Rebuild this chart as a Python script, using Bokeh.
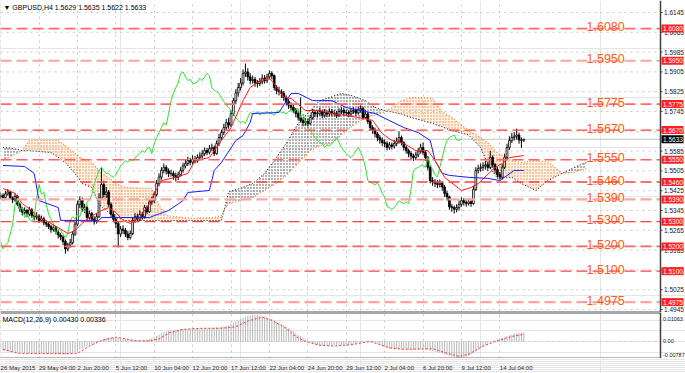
from bokeh.plotting import figure
from bokeh.models import Range1d, FixedTicker, Grid, ColumnDataSource
from bokeh.layouts import column
from bokeh.embed import file_html
from bokeh.resources import INLINE
from bokeh.core.properties import value

FONT = "Liberation Sans"

# ---------------- data ----------------
first_open = 1.5400
closes = [
    1.5405, 1.5398, 1.5412, 1.5420, 1.5395, 1.5388, 1.5402, 1.5370, 1.5352, 1.5338,
    1.5345, 1.5330, 1.5348, 1.5325, 1.5318, 1.5322, 1.5305, 1.5312, 1.5296, 1.5290,
    1.5280, 1.5268, 1.5275, 1.5258, 1.5246, 1.5238, 1.5220, 1.5190, 1.5205, 1.5215,
    1.5250, 1.5290, 1.5370, 1.5390, 1.5350, 1.5357, 1.5317, 1.5333, 1.5310, 1.5300,
    1.5320, 1.5395, 1.5450, 1.5410, 1.5420, 1.5370, 1.5330, 1.5310, 1.5293, 1.5250,
    1.5270, 1.5265, 1.5250, 1.5236, 1.5252, 1.5305, 1.5320, 1.5310, 1.5330, 1.5320,
    1.5357, 1.5340, 1.5380, 1.5385, 1.5410, 1.5454, 1.5480, 1.5507, 1.5519, 1.5505,
    1.5495, 1.5495, 1.5485, 1.5479, 1.5490, 1.5507, 1.5525, 1.5535, 1.5547, 1.5540,
    1.5552, 1.5545, 1.5559, 1.5565, 1.5575, 1.5587, 1.5580, 1.5595, 1.5600, 1.5575,
    1.5616, 1.5640, 1.5660, 1.5680, 1.5700, 1.5690, 1.5737, 1.5789, 1.5820, 1.5842,
    1.5860, 1.5899, 1.5905, 1.5885, 1.5870, 1.5875, 1.5860, 1.5858, 1.5865, 1.5880,
    1.5870, 1.5885, 1.5899, 1.5890, 1.5842, 1.5830, 1.5825, 1.5818, 1.5800, 1.5785,
    1.5770, 1.5761, 1.5750, 1.5737, 1.5720, 1.5709, 1.5700, 1.5705, 1.5697, 1.5720,
    1.5741, 1.5735, 1.5737, 1.5745, 1.5730, 1.5741, 1.5735, 1.5745, 1.5737, 1.5737,
    1.5730, 1.5745, 1.5749, 1.5740, 1.5741, 1.5735, 1.5745, 1.5749, 1.5740, 1.5752,
    1.5757, 1.5721, 1.5735, 1.5705, 1.5680, 1.5670, 1.5655, 1.5640, 1.5630, 1.5620,
    1.5616, 1.5600, 1.5610, 1.5605, 1.5616, 1.5625, 1.5640, 1.5620, 1.5600, 1.5587,
    1.5575, 1.5565, 1.5559, 1.5570, 1.5585, 1.5600, 1.5580, 1.5559, 1.5520, 1.5466,
    1.5460, 1.5454, 1.5450, 1.5455, 1.5440, 1.5414, 1.5400, 1.5360, 1.5357, 1.5350,
    1.5357, 1.5370, 1.5385, 1.5378, 1.5373, 1.5380, 1.5373, 1.5430, 1.5507, 1.5515,
    1.5519, 1.5525, 1.5530, 1.5519, 1.5560, 1.5530, 1.5510, 1.5490, 1.5480, 1.5520,
    1.5560, 1.5600, 1.5628, 1.5640, 1.5645, 1.5650, 1.5630, 1.5629, 1.5633,
]
highs = [
    1.5418, 1.5415, 1.5425, 1.5432, 1.5426, 1.5402, 1.5415, 1.5408, 1.5378, 1.5360,
    1.5358, 1.5352, 1.5360, 1.5355, 1.5335, 1.5338, 1.5330, 1.5325, 1.5320, 1.5305,
    1.5300, 1.5288, 1.5290, 1.5282, 1.5265, 1.5255, 1.5245, 1.5228, 1.5215, 1.5230,
    1.5262, 1.5300, 1.5385, 1.5402, 1.5398, 1.5372, 1.5365, 1.5345, 1.5340, 1.5322,
    1.5335, 1.5415, 1.5519, 1.5465, 1.5440, 1.5428, 1.5378, 1.5342, 1.5320, 1.5300,
    1.5282, 1.5285, 1.5275, 1.5262, 1.5265, 1.5318, 1.5335, 1.5332, 1.5345, 1.5340,
    1.5368, 1.5365, 1.5392, 1.5400, 1.5422, 1.5468, 1.5495, 1.5520, 1.5535, 1.5528,
    1.5515, 1.5510, 1.5505, 1.5498, 1.5502, 1.5520, 1.5538, 1.5550, 1.5562, 1.5558,
    1.5568, 1.5565, 1.5572, 1.5580, 1.5590, 1.5600, 1.5598, 1.5610, 1.5615, 1.5608,
    1.5628, 1.5655, 1.5672, 1.5695, 1.5715, 1.5720, 1.5750, 1.5800, 1.5835, 1.5860,
    1.5880, 1.5915, 1.5939, 1.5920, 1.5900, 1.5890, 1.5885, 1.5872, 1.5880, 1.5895,
    1.5892, 1.5898, 1.5911, 1.5908, 1.5895, 1.5852, 1.5845, 1.5835, 1.5828, 1.5810,
    1.5795, 1.5782, 1.5775, 1.5760, 1.5748, 1.5802, 1.5720, 1.5718, 1.5715, 1.5732,
    1.5755, 1.5752, 1.5750, 1.5760, 1.5752, 1.5755, 1.5750, 1.5758, 1.5755, 1.5750,
    1.5748, 1.5758, 1.5762, 1.5760, 1.5752, 1.5750, 1.5758, 1.5762, 1.5758, 1.5765,
    1.5770, 1.5765, 1.5750, 1.5742, 1.5712, 1.5690, 1.5680, 1.5662, 1.5650, 1.5640,
    1.5632, 1.5625, 1.5622, 1.5620, 1.5630, 1.5640, 1.5665, 1.5648, 1.5625, 1.5608,
    1.5595, 1.5585, 1.5575, 1.5582, 1.5598, 1.5615, 1.5620, 1.5590, 1.5565, 1.5528,
    1.5480, 1.5472, 1.5468, 1.5470, 1.5462, 1.5448, 1.5425, 1.5405, 1.5372, 1.5365,
    1.5370, 1.5385, 1.5398, 1.5395, 1.5390, 1.5395, 1.5392, 1.5445, 1.5520, 1.5530,
    1.5535, 1.5540, 1.5545, 1.5542, 1.5587, 1.5568, 1.5538, 1.5520, 1.5500, 1.5532,
    1.5575, 1.5615, 1.5645, 1.5658, 1.5662, 1.5676, 1.5660, 1.5640, 1.5635,
]
lows = [
    1.5390, 1.5385, 1.5392, 1.5405, 1.5388, 1.5375, 1.5380, 1.5362, 1.5340, 1.5325,
    1.5328, 1.5318, 1.5322, 1.5315, 1.5305, 1.5308, 1.5295, 1.5298, 1.5285, 1.5278,
    1.5270, 1.5255, 1.5260, 1.5248, 1.5232, 1.5225, 1.5205, 1.5171, 1.5180, 1.5195,
    1.5208, 1.5242, 1.5282, 1.5355, 1.5340, 1.5335, 1.5305, 1.5308, 1.5298, 1.5288,
    1.5292, 1.5315, 1.5388, 1.5398, 1.5395, 1.5360, 1.5318, 1.5298, 1.5275, 1.5196,
    1.5238, 1.5250, 1.5238, 1.5225, 1.5228, 1.5245, 1.5295, 1.5298, 1.5302, 1.5308,
    1.5312, 1.5330, 1.5335, 1.5368, 1.5375, 1.5402, 1.5445, 1.5470, 1.5495, 1.5490,
    1.5480, 1.5482, 1.5470, 1.5462, 1.5468, 1.5482, 1.5498, 1.5515, 1.5525, 1.5528,
    1.5532, 1.5535, 1.5538, 1.5548, 1.5555, 1.5565, 1.5568, 1.5572, 1.5585, 1.5565,
    1.5570, 1.5605, 1.5630, 1.5650, 1.5668, 1.5675, 1.5682, 1.5728, 1.5775, 1.5805,
    1.5830, 1.5850, 1.5885, 1.5870, 1.5855, 1.5858, 1.5845, 1.5842, 1.5848, 1.5855,
    1.5858, 1.5860, 1.5875, 1.5875, 1.5830, 1.5815, 1.5810, 1.5800, 1.5788, 1.5770,
    1.5755, 1.5748, 1.5738, 1.5722, 1.5708, 1.5700, 1.5685, 1.5688, 1.5680, 1.5690,
    1.5712, 1.5722, 1.5720, 1.5728, 1.5718, 1.5720, 1.5722, 1.5725, 1.5726, 1.5725,
    1.5718, 1.5722, 1.5735, 1.5728, 1.5728, 1.5722, 1.5725, 1.5735, 1.5728, 1.5732,
    1.5740, 1.5712, 1.5715, 1.5695, 1.5668, 1.5655, 1.5640, 1.5625, 1.5615, 1.5605,
    1.5600, 1.5588, 1.5590, 1.5592, 1.5595, 1.5605, 1.5615, 1.5608, 1.5588, 1.5575,
    1.5560, 1.5550, 1.5545, 1.5548, 1.5560, 1.5575, 1.5570, 1.5545, 1.5508, 1.5455,
    1.5445, 1.5440, 1.5435, 1.5438, 1.5425, 1.5400, 1.5385, 1.5348, 1.5340, 1.5333,
    1.5338, 1.5345, 1.5360, 1.5365, 1.5360, 1.5365, 1.5360, 1.5368, 1.5425, 1.5495,
    1.5502, 1.5505, 1.5510, 1.5505, 1.5512, 1.5518, 1.5495, 1.5478, 1.5470, 1.5470,
    1.5512, 1.5550, 1.5590, 1.5618, 1.5628, 1.5632, 1.5615, 1.5598, 1.5622,
]

# Ichimoku lines (bar index -> price)
tenkan_idx = [1, 6, 9, 13, 16, 21, 26, 28, 31, 34, 37, 42, 45, 48, 51, 54, 58, 62, 64, 67,
              73, 78, 81, 87, 92, 96, 101, 104, 108, 112, 114, 118, 121, 127, 133, 138, 144,
              149, 155, 159, 163, 168, 173, 178, 181, 185, 192, 196, 199, 206, 209, 212, 218]
tenkan_val = [1.5434, 1.5414, 1.5373, 1.5345, 1.5317, 1.5293, 1.5264, 1.5252, 1.5264, 1.5293,
              1.5317, 1.5345, 1.5357, 1.5337, 1.5305, 1.5293, 1.5317, 1.5373, 1.5414, 1.5466,
              1.5479, 1.5495, 1.5547, 1.5559, 1.5628, 1.5680, 1.5789, 1.5842, 1.5870, 1.5878,
              1.5858, 1.5802, 1.5798, 1.5749, 1.5749, 1.5737, 1.5729, 1.5721, 1.5709, 1.5656,
              1.5628, 1.5616, 1.5587, 1.5587, 1.5547, 1.5479, 1.5426, 1.5438, 1.5454, 1.5519,
              1.5535, 1.5559, 1.5567]
kijun_idx = [1, 10, 14, 16, 24, 25, 41, 42, 62, 70, 76, 78, 87, 89, 92, 98, 101, 104, 105,
             116, 121, 124, 130, 138, 144, 156, 168, 174, 179, 181, 184, 187, 195, 203, 208,
             214, 218]
kijun_val = [1.5527, 1.5523, 1.5495, 1.5385, 1.5357, 1.5305, 1.5305, 1.5317, 1.5317, 1.5345,
             1.5385, 1.5418, 1.5426, 1.5507, 1.5539, 1.5628, 1.5648, 1.5701, 1.5737, 1.5741,
             1.5818, 1.5818, 1.5789, 1.5789, 1.5761, 1.5737, 1.5680, 1.5660, 1.5628, 1.5547,
             1.5495, 1.5487, 1.5479, 1.5475, 1.5466, 1.5507, 1.5507]
cloud_idx = [1, 5, 9, 12, 21, 24, 27, 31, 34, 38, 41, 45, 48, 52, 63, 66, 69, 79, 89, 92,
             95, 100, 105, 110, 114, 119, 124, 129, 133, 138, 142, 146, 152, 156, 160, 163,
             167, 171, 180, 184, 188, 195, 200, 203, 207, 213, 217, 223, 228, 231, 234, 239, 244]
span_a = [1.5547, 1.5567, 1.5587, 1.5628, 1.5628, 1.5628, 1.5608, 1.5575, 1.5555, 1.5539,
          1.5507, 1.5477, 1.5454, 1.5438, 1.5434, 1.5365, 1.5325, 1.5313, 1.5317, 1.5325,
          1.5373, 1.5385, 1.5398, 1.5426, 1.5449, 1.5486, 1.5535, 1.5587, 1.5608, 1.5616,
          1.5650, 1.5682, 1.5721, 1.5730, 1.5744, 1.5760, 1.5789, 1.5802, 1.5798, 1.5743,
          1.5721, 1.5668, 1.5640, 1.5618, 1.5578, 1.5547, 1.5539, 1.5547, 1.5541, 1.5519,
          1.5495, 1.5499, 1.5515]
span_b = [1.5600, 1.5596, 1.5587, 1.5587, 1.5579, 1.5560, 1.5538, 1.5495, 1.5454, 1.5438,
          1.5370, 1.5337, 1.5317, 1.5305, 1.5305, 1.5305, 1.5305, 1.5305, 1.5305, 1.5305,
          1.5420, 1.5435, 1.5454, 1.5495, 1.5547, 1.5616, 1.5697, 1.5749, 1.5789, 1.5805,
          1.5818, 1.5810, 1.5789, 1.5761, 1.5749, 1.5743, 1.5735, 1.5721, 1.5697, 1.5683,
          1.5668, 1.5650, 1.5600, 1.5530, 1.5475, 1.5479, 1.5454, 1.5426, 1.5466, 1.5481,
          1.5495, 1.5519, 1.5539]
chikou_shift = 26

# MACD(12,26,9)
macd_main = [
    -0.0040, -0.0042, -0.0044, -0.0046, -0.0048, -0.0049, -0.0050, -0.0051, -0.0052, -0.0053,
    -0.0054, -0.0055, -0.0055, -0.0056, -0.0056, -0.0056, -0.0057, -0.0057, -0.0057, -0.0058,
    -0.0058, -0.0058, -0.0058, -0.0059, -0.0059, -0.0060, -0.0060, -0.0061, -0.0060, -0.0058,
    -0.0055, -0.0050, -0.0044, -0.0038, -0.0033, -0.0028, -0.0024, -0.0020, -0.0016, -0.0012,
    -0.0008, -0.0002, 0.0006, 0.0012, 0.0016, 0.0019, 0.0020, 0.0020, 0.0019, 0.0017,
    0.0015, 0.0013, 0.0011, 0.0009, 0.0008, 0.0007, 0.0006, 0.0006, 0.0005, 0.0005,
    0.0006, 0.0008, 0.0011, 0.0015, 0.0020, 0.0026, 0.0032, 0.0038, 0.0043, 0.0047,
    0.0050, 0.0052, 0.0054, 0.0055, 0.0056, 0.0057, 0.0058, 0.0058, 0.0059, 0.0059,
    0.0060, 0.0060, 0.0060, 0.0061, 0.0061, 0.0062, 0.0062, 0.0063, 0.0063, 0.0064,
    0.0065, 0.0066, 0.0068, 0.0070, 0.0073, 0.0077, 0.0082, 0.0088, 0.0094, 0.0100,
    0.0106, 0.0111, 0.0116, 0.0120, 0.0123, 0.0125, 0.0125, 0.0124, 0.0122, 0.0119,
    0.0116, 0.0112, 0.0108, 0.0104, 0.0099, 0.0094, 0.0088, 0.0082, 0.0076, 0.0069,
    0.0062, 0.0055, 0.0048, 0.0040, 0.0032, 0.0024, 0.0016, 0.0008, 0.0001, -0.0005,
    -0.0010, -0.0014, -0.0017, -0.0019, -0.0020, -0.0020, -0.0020, -0.0019, -0.0019, -0.0018,
    -0.0018, -0.0017, -0.0017, -0.0016, -0.0015, -0.0014, -0.0012, -0.0010, -0.0008, -0.0006,
    -0.0004, -0.0002, 0.0001, 0.0003, 0.0002, -0.0001, -0.0005, -0.0010, -0.0015, -0.0021,
    -0.0026, -0.0030, -0.0033, -0.0035, -0.0036, -0.0037, -0.0037, -0.0038, -0.0038, -0.0039,
    -0.0039, -0.0039, -0.0040, -0.0040, -0.0039, -0.0038, -0.0038, -0.0039, -0.0041, -0.0043,
    -0.0045, -0.0048, -0.0051, -0.0054, -0.0057, -0.0060, -0.0064, -0.0068, -0.0072, -0.0075,
    -0.0077, -0.0078, -0.0077, -0.0075, -0.0072, -0.0068, -0.0062, -0.0055, -0.0047, -0.0039,
    -0.0031, -0.0024, -0.0017, -0.0011, -0.0006, -0.0001, 0.0004, 0.0008, 0.0012, 0.0016,
    0.0020, 0.0025, 0.0029, 0.0033, 0.0036, 0.0039, 0.0041, 0.0042, 0.0043,
]
signal_idx = [1, 6, 9, 31, 33, 37, 42, 48, 51, 56, 62, 66, 70, 76, 84, 92, 98, 103, 109, 113,
              119, 123, 127, 133, 139, 146, 154, 158, 162, 168, 180, 185, 191, 195, 201, 208,
              213, 218]
signal_val = [-0.0037, -0.0052, -0.0057, -0.0057, -0.0049, -0.0022, 0.0005, 0.0020, 0.0015,
              0.0003, 0.0003, 0.0012, 0.0039, 0.0057, 0.0062, 0.0062, 0.0069, 0.0096, 0.0114,
              0.0099, 0.0062, 0.0023, 0.0000, -0.0018, -0.0022, -0.0015, 0.0000, -0.0015,
              -0.0030, -0.0037, -0.0034, -0.0052, -0.0070, -0.0060, -0.0022, 0.0008, 0.0023,
              0.0034]

levels = [1.6080, 1.5950, 1.5775, 1.5670, 1.5550, 1.5460, 1.5390, 1.5300, 1.5200, 1.5100, 1.4975]
price_ticks = [1.4945, 1.5025, 1.5105, 1.5185, 1.5265, 1.5345, 1.5425, 1.5505, 1.5585,
               1.5665, 1.5745, 1.5825, 1.5905, 1.5985, 1.6065, 1.6145]
date_ticks = [0, 16, 32, 48, 64, 80, 96, 112, 128, 144, 160, 176, 192, 208]
date_labels = ["26 May 2015", "29 May 04:00", "2 Jun 20:00", "5 Jun 12:00", "10 Jun 04:00",
               "12 Jun 20:00", "17 Jun 12:00", "22 Jun 04:00", "24 Jun 20:00", "29 Jun 12:00",
               "2 Jul 04:00", "6 Jul 20:00", "9 Jul 12:00", "14 Jul 04:00"]
macd_ticks = [0.01063, 0.0, -0.00787]
macd_tick_labels = ["0.01063", "0.00", "-0.00787"]
last_price = 1.5633
title_text = "\u25bc GBPUSD,H4  1.5629 1.5635 1.5622 1.5633"
macd_text = "MACD(12,26,9) 0.00430 0.00336"

# styles (kept apart from the data)
level_colors = ["#ff6a6a", "#ffa3a3", "#ff6a6a", "#ff4040", "#ff6060", "#ff4040",
                "#ffa3a3", "#ff4040", "#ff6060", "#ff4040", "#ffa3a3"]
level_widths = [1.6, 2.2, 1.6, 1.4, 1.6, 1.4, 2.2, 1.4, 1.6, 1.4, 2.2]

# ---------------- geometry ----------------
n = min(len(closes), len(highs), len(lows))
idx = list(range(n))
opens = [first_open] + closes[:n - 1]

PX_PER_BAR = 2.4
BPX = 1.0 / PX_PER_BAR          # bars per pixel
X0 = -0.05
XA = X0 + 660 * BPX             # price-axis position
X1 = X0 + 685 * BPX
MAIN_H = 312
PPX = 0.000404                  # price per pixel
Y1 = 1.61935
Y0 = Y1 - MAIN_H * PPX
GRID = "#c8c8c8"
AXIS = "#404040"
AX_FONT = "6.5px"

xr = Range1d(X0, X1)

p = figure(frame_width=685, frame_height=MAIN_H, x_range=xr, y_range=Range1d(Y0, Y1),
           output_backend="svg", toolbar_location=None, x_axis_location=None,
           y_axis_location=None, min_border=0, outline_line_color=None,
           background_fill_color="white", border_fill_color="white")

p.add_layout(Grid(dimension=0, ticker=FixedTicker(ticks=date_ticks),
                  grid_line_color=GRID, grid_line_dash="dotted"))
k = len(price_ticks)
p.segment(x0=[X0] * k, y0=price_ticks, x1=[XA] * k, y1=price_ticks,
          line_color=GRID, line_dash="dotted", line_width=1)


def cloud_quads(xs, a, b):
    pts = []
    for j in range(len(xs) - 1):
        pts.append((xs[j], a[j], b[j]))
        d0 = a[j] - b[j]
        d1 = a[j + 1] - b[j + 1]
        if d0 * d1 < 0:
            t = d0 / (d0 - d1)
            xc = xs[j] + t * (xs[j + 1] - xs[j])
            yc = a[j] + t * (a[j + 1] - a[j])
            pts.append((xc, yc, yc))
    pts.append((xs[-1], a[-1], b[-1]))
    up = ([], [])
    dn = ([], [])
    for (x0, a0, b0), (x1, a1, b1) in zip(pts[:-1], pts[1:]):
        tgt = up if (a0 + a1) >= (b0 + b1) else dn
        tgt[0].append([x0, x1, x1, x0])
        tgt[1].append([a0, a1, b1, b0])
    return up, dn


up, dn = cloud_quads(cloud_idx, span_a, span_b)
p.patches(xs=up[0], ys=up[1], fill_color="#f4a460", fill_alpha=0.12, line_color=None,
          hatch_pattern="dot", hatch_color="#f08a2c", hatch_scale=3, hatch_weight=1.2)
p.patches(xs=dn[0], ys=dn[1], fill_alpha=0.0, line_color=None,
          hatch_pattern="dot", hatch_color="#404040", hatch_scale=3, hatch_weight=0.8)
p.line(cloud_idx, span_a, line_color="#f08a2c", line_dash="1 2", line_width=1.2)
p.line(cloud_idx, span_b, line_color="#000000", line_dash="1 2", line_width=1.0)

# current price line
p.segment(x0=[X0], y0=[last_price], x1=[XA], y1=[last_price], line_color="#c0c0c0",
          line_width=1)

# candles
src = ColumnDataSource(dict(
    x=idx, h=highs[:n], l=lows[:n],
    top=[max(o, c) for o, c in zip(opens, closes[:n])],
    bot=[min(o, c) for o, c in zip(opens, closes[:n])],
    fill=["white" if c >= o else "black" for o, c in zip(opens, closes[:n])],
))
p.segment(x0="x", y0="h", x1="x", y1="l", source=src, line_color="black", line_width=1)
p.vbar(x="x", top="top", bottom="bot", width=0.75, fill_color="fill", line_color="black",
       line_width=0.8, source=src)

# ichimoku lines
p.line([i - chikou_shift for i in idx[chikou_shift:]], closes[chikou_shift:n],
       line_color="#2fe02f", line_width=1)
p.line(kijun_idx, kijun_val, line_color="#1a1aff", line_width=1)
p.line(tenkan_idx, tenkan_val, line_color="#ff1a1a", line_width=1)

# horizontal levels
L = len(levels)
p.segment(x0=[X0] * L, y0=levels, x1=[XA] * L, y1=levels, line_color=level_colors,
          line_width=level_widths, line_dash="11 5")
p.text(x=[X0 + 586 * BPX] * L, y=[v + 2 * PPX for v in levels],
       text=["%.4f" % v for v in levels], text_font=value(FONT), text_font_size="12.5px",
       text_color="#ff5a14", text_baseline="alphabetic", text_align="left")

# price axis (drawn inside the frame, to the right of the chart area)
p.segment(x0=[XA], y0=[Y0], x1=[XA], y1=[Y1], line_color=AXIS, line_width=1.5)
p.segment(x0=[XA] * k, y0=price_ticks, x1=[XA + 2 * BPX] * k, y1=price_ticks,
          line_color=AXIS, line_width=1)
p.text(x=[XA + 3.5 * BPX] * k, y=price_ticks, text=["%.4f" % t for t in price_ticks],
       text_font=value(FONT), text_font_size=AX_FONT, text_color="#202020",
       text_baseline="middle", text_align="left")
box_y = levels + [last_price]
box_c = ["#ff2020"] * L + ["#000000"]
p.rect(x=[XA + 12 * BPX] * len(box_y), y=box_y, width=22, height=8,
       width_units="screen", height_units="screen", fill_color=box_c, line_color=None)
p.text(x=[XA + 2.5 * BPX] * len(box_y), y=box_y, text=["%.4f" % v for v in box_y],
       text_font=value(FONT), text_font_size=AX_FONT, text_color="white",
       text_baseline="middle", text_align="left")

p.text(x=[X0 + 3 * BPX], y=[Y1 - 3 * PPX], text=[title_text],
       text_font=value(FONT), text_font_size="7px", text_color="#000000",
       text_baseline="top", text_align="left")
# separator (upper half)
p.segment(x0=[X0], y0=[Y0], x1=[XA], y1=[Y0], line_color="#505050", line_width=2)

# ---------------- MACD panel ----------------
MACD_H = 46
MY0, MY1 = -0.0080, 0.0136
MPX = (MY1 - MY0) / MACD_H
m = figure(frame_width=685, frame_height=MACD_H, x_range=xr, y_range=Range1d(MY0, MY1),
           output_backend="svg", toolbar_location=None, y_axis_location=None,
           x_axis_location=None, min_border=0, outline_line_color=None,
           background_fill_color="white", border_fill_color="white")

m.add_layout(Grid(dimension=0, ticker=FixedTicker(ticks=date_ticks),
                  grid_line_color=GRID, grid_line_dash="dotted"))
m.segment(x0=[X0], y0=[0.0], x1=[XA], y1=[0.0], line_color=GRID, line_dash="dotted")

m.vbar(x=idx, top=macd_main[:n], bottom=0, width=0.4, fill_color="#b4b4b4",
       line_color=None)
m.line(signal_idx, signal_val, line_color="#ff3030", line_dash="2 2", line_width=1)

m.text(x=[X0 + 2 * BPX], y=[MY1 - 3 * MPX], text=[macd_text],
       text_font=value(FONT), text_font_size="7px", text_color="#000000",
       text_baseline="top", text_align="left")

# MACD value axis and panel border
m.segment(x0=[XA], y0=[MY0], x1=[XA], y1=[MY1], line_color=AXIS, line_width=1.5)
m.segment(x0=[X0], y0=[MY1], x1=[XA], y1=[MY1], line_color="#505050", line_width=2)
m.segment(x0=[X0], y0=[MY0], x1=[XA], y1=[MY0], line_color="#707070", line_width=2)
m.text(x=[XA + 2.5 * BPX] * 3, y=[max(v, MY0 + 3.5 * MPX) for v in macd_ticks],
       text=macd_tick_labels, text_font=value(FONT), text_font_size="5.5px",
       text_color="#202020", text_baseline="middle", text_align="left")

# ---------------- time axis strip ----------------
STRIP_H = 15
s = figure(frame_width=685, frame_height=STRIP_H, x_range=xr, y_range=Range1d(0, STRIP_H),
           output_backend="svg", toolbar_location=None, x_axis_location=None,
           y_axis_location=None, min_border=0, outline_line_color=None,
           background_fill_color="white", border_fill_color="white")
s.text(x=date_ticks, y=[STRIP_H - 9] * len(date_ticks), text=date_labels,
       text_font=value(FONT), text_font_size="6px", text_color="#202020",
       text_baseline="middle", text_align="left")

layout = column(p, m, s, spacing=0)
open("out.html", "w").write(file_html(layout, INLINE))
